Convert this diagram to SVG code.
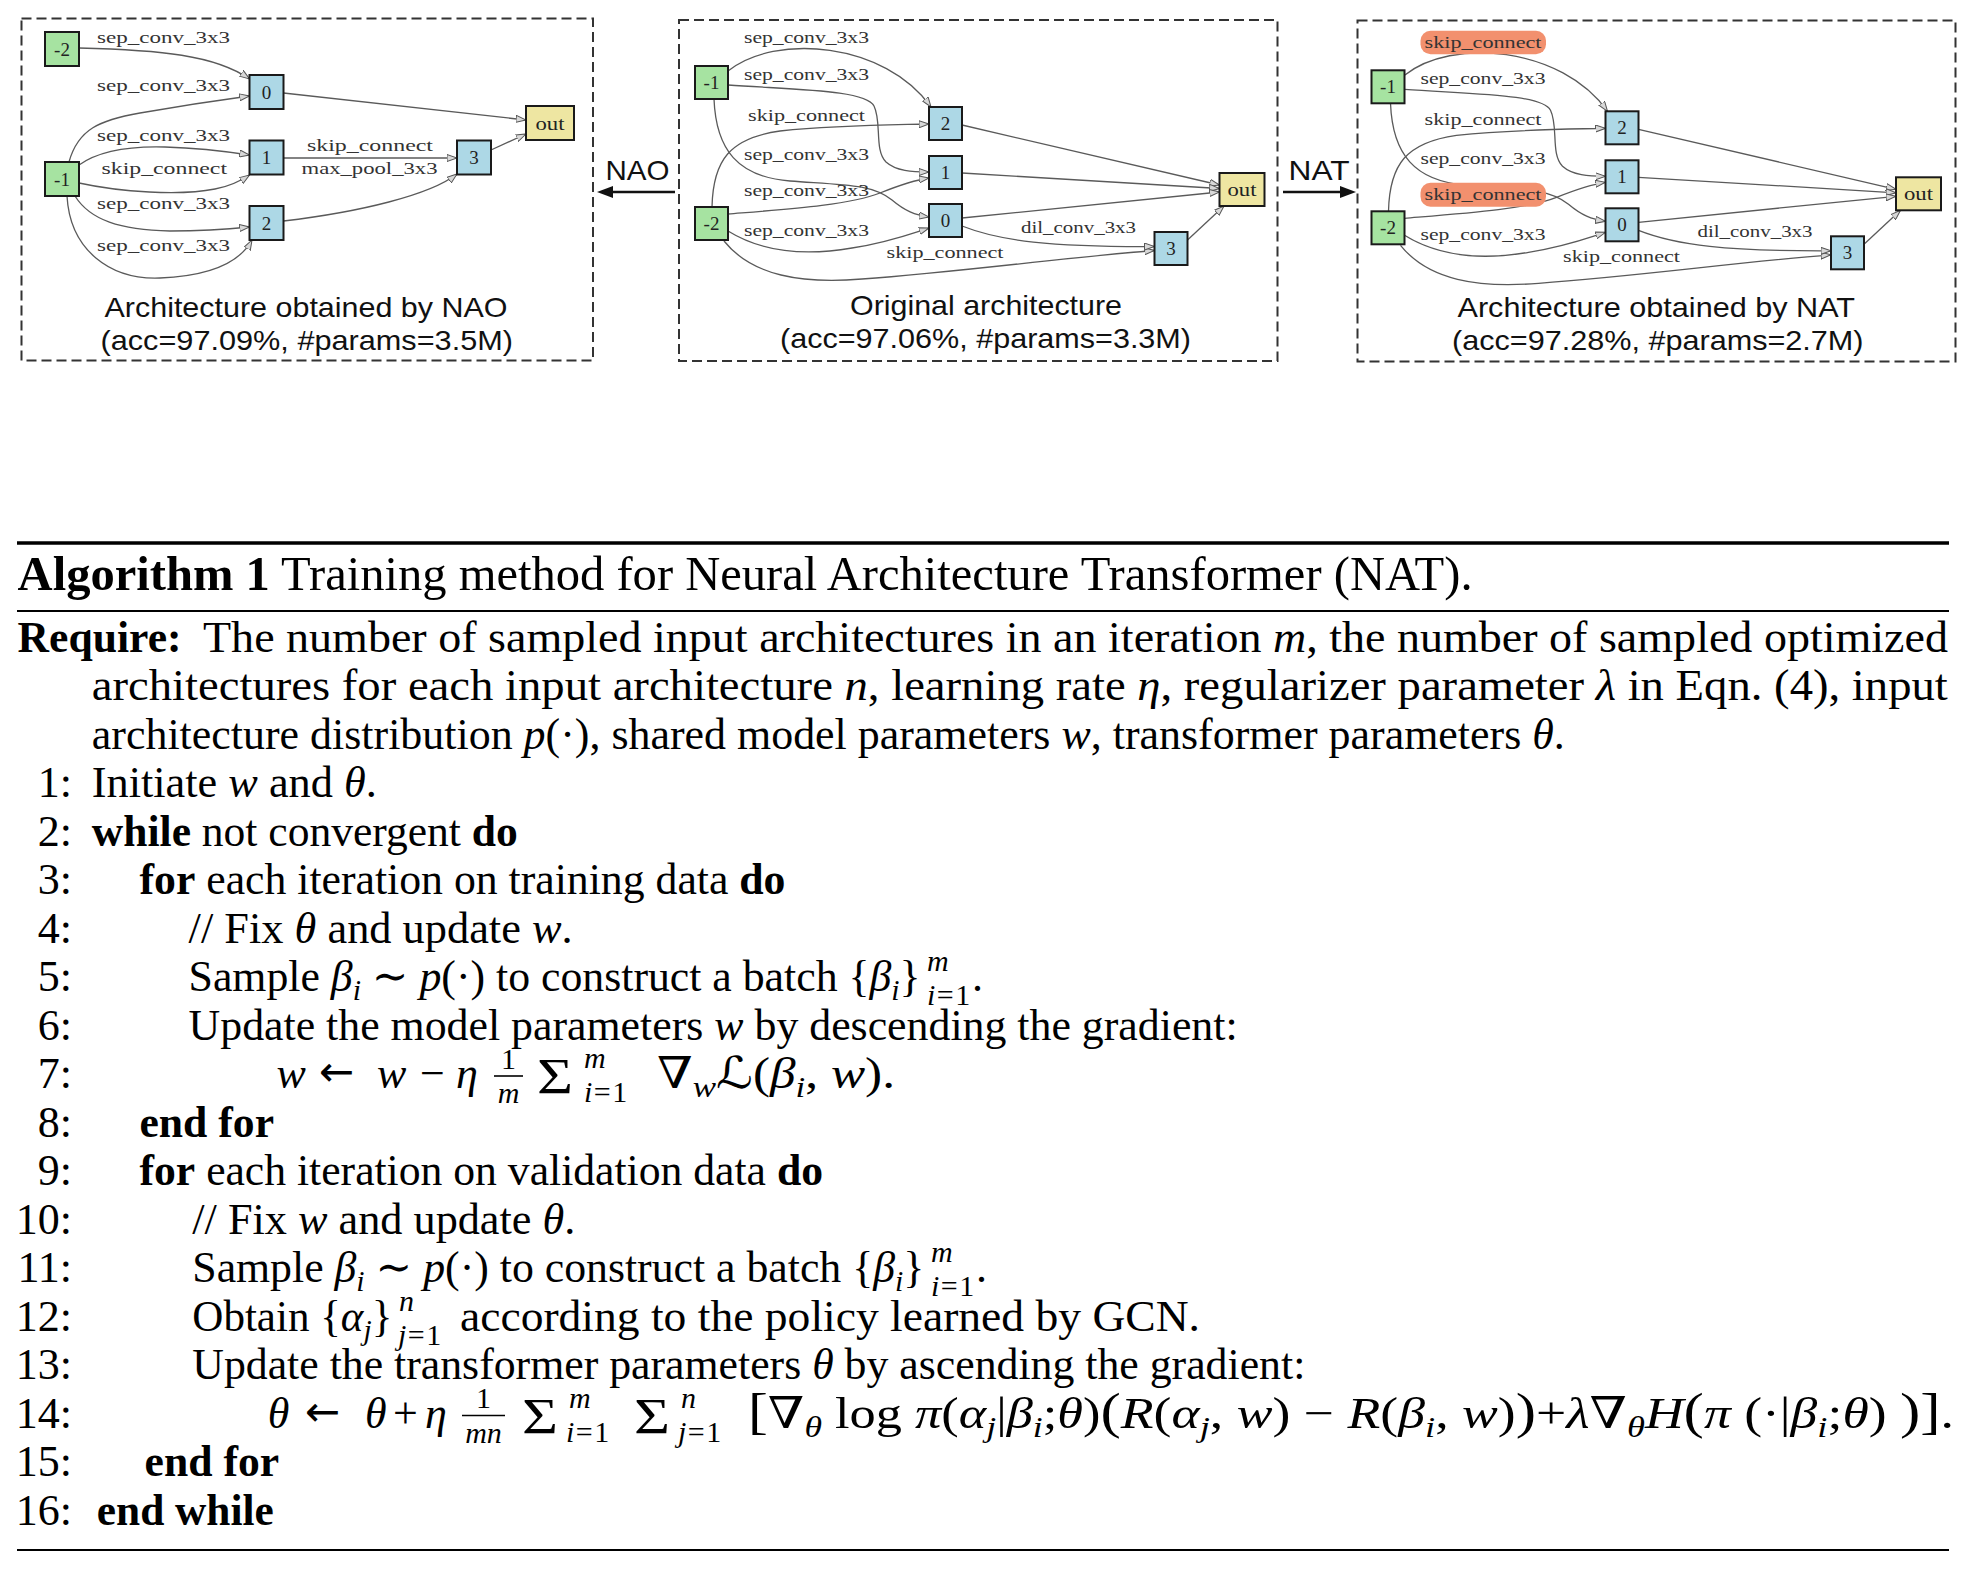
<svg xmlns="http://www.w3.org/2000/svg" width="1971" height="1569" viewBox="0 0 1971 1569">
<style>
.edge{fill:none;stroke:#5a5a5a;stroke-width:1.3;marker-end:url(#ah)}
.nb{stroke:#1a1a1a;stroke-width:2}
.g{fill:#a6e3a1}.bl{fill:#add8e6}.y{fill:#eee6a2}
.nl{font-family:"Liberation Serif","DejaVu Serif",serif;font-size:19px;fill:#222;text-anchor:middle}
.el{font-family:"Liberation Serif","DejaVu Serif",serif;font-size:16px;fill:#333}
.cap{font-family:"Liberation Sans",Arial,sans-serif;font-size:28px;fill:#111}
.frame{fill:none;stroke:#333;stroke-width:2;stroke-dasharray:10 5}
.hl{fill:#f2906e}
.a{font-family:"Liberation Serif","DejaVu Serif","DejaVu Sans",serif;font-size:44px;fill:#000}
.b{font-weight:bold}.i{font-style:italic}.s{font-size:30px}.bg{font-size:50px}.sum{font-size:50px}
.arr{font-family:"DejaVu Sans",sans-serif;font-size:42px;fill:#000}
.rule{stroke:#000}
</style>
<defs>
<marker id="ah" viewBox="0 0 10 8" refX="10" refY="4" markerWidth="10" markerHeight="8" markerUnits="userSpaceOnUse" orient="auto"><path d="M0,0.5 L10,4 L0,7.5 Z" fill="#d8d8d8" stroke="#555" stroke-width="1"/></marker>
</defs>
<rect width="1971" height="1569" fill="#fff"/>

<!-- Panel 1 -->
<g id="panel-nao">
<rect class="frame" x="21.5" y="18.5" width="571.5" height="342"/>
<g id="p1-connectors">
<path class="edge" d="M79,48 C160,50 215,55 249.5,79"/>
<path class="edge" d="M69,162 C78,129 100,120 140,113 C180,106 220,100 249.5,96"/>
<path class="edge" d="M79,165 C100,150 130,146 165,147 C200,148 230,152 249.5,155"/>
<path class="edge" d="M79,183 C120,192 180,196 215,189 C232,186 242,180 249.5,175"/>
<path class="edge" d="M75,196 C90,220 120,230 170,231 C200,231 230,229 249.5,227"/>
<path class="edge" d="M67,196 C70,250 110,280 160,278 C210,276 240,262 252,240"/>
<path class="edge" d="M283.5,93 L526,120"/>
<path class="edge" d="M283.5,158 L457,158"/>
<path class="edge" d="M283.5,221 C360,212 430,195 457,174"/>
<path class="edge" d="M491,150 L526,134"/>
</g>
<g id="p1-labels">
<text class="el" x="97" y="42.5" textLength="133" lengthAdjust="spacingAndGlyphs">sep_conv_3x3</text>
<text class="el" x="97" y="90.5" textLength="133" lengthAdjust="spacingAndGlyphs">sep_conv_3x3</text>
<text class="el" x="97" y="140.5" textLength="133" lengthAdjust="spacingAndGlyphs">sep_conv_3x3</text>
<text class="el" x="101.5" y="174" textLength="125.5" lengthAdjust="spacingAndGlyphs">skip_connect</text>
<text class="el" x="97" y="209" textLength="133" lengthAdjust="spacingAndGlyphs">sep_conv_3x3</text>
<text class="el" x="97" y="250.5" textLength="133" lengthAdjust="spacingAndGlyphs">sep_conv_3x3</text>
<text class="el" x="307" y="150.5" textLength="126" lengthAdjust="spacingAndGlyphs">skip_connect</text>
<text class="el" x="301.5" y="174" textLength="136" lengthAdjust="spacingAndGlyphs">max_pool_3x3</text>
</g>
<g id="p1-node-m2"><rect class="g nb" x="45" y="32" width="34" height="34"/><text class="nl" x="62" y="55.5">-2</text></g>
<g id="p1-node-0"><rect class="bl nb" x="249.5" y="75" width="34" height="34"/><text class="nl" x="266.5" y="98.5">0</text></g>
<g id="p1-node-m1"><rect class="g nb" x="45" y="162" width="34" height="34"/><text class="nl" x="62" y="185.5">-1</text></g>
<g id="p1-node-1"><rect class="bl nb" x="249.5" y="140.5" width="34" height="34"/><text class="nl" x="266.5" y="164">1</text></g>
<g id="p1-node-2"><rect class="bl nb" x="249.5" y="206" width="34" height="34"/><text class="nl" x="266.5" y="229.5">2</text></g>
<g id="p1-node-3"><rect class="bl nb" x="457" y="140.5" width="34" height="34"/><text class="nl" x="474" y="164">3</text></g>
<g id="p1-node-out"><rect class="y nb" x="526" y="106" width="48" height="34"/><text class="nl" x="550" y="129.5" textLength="29" lengthAdjust="spacingAndGlyphs">out</text></g>
<text class="cap" x="104.5" y="317" textLength="403" lengthAdjust="spacingAndGlyphs">Architecture obtained by NAO</text>
<text class="cap" x="100.5" y="350" textLength="412.5" lengthAdjust="spacingAndGlyphs">(acc=97.09%, #params=3.5M)</text>
</g>

<!-- arrows between panels -->
<g id="inter-arrows">
<line x1="675" y1="192" x2="610" y2="192" stroke="#111" stroke-width="2.5"/>
<polygon points="597,192 613,186 613,198" fill="#111"/>
<text class="cap" x="605.5" y="180" textLength="64" lengthAdjust="spacingAndGlyphs">NAO</text>
<line x1="1283" y1="192" x2="1343" y2="192" stroke="#111" stroke-width="2.5"/>
<polygon points="1356,192 1340,186 1340,198" fill="#111"/>
<text class="cap" x="1288.5" y="180" textLength="61" lengthAdjust="spacingAndGlyphs">NAT</text>
</g>

<!-- Panel 2 -->
<g id="panel-original">
<rect class="frame" x="679" y="20" width="598.5" height="341"/>
<g id="p2-connectors">
<path class="edge" d="M728,71 C775,33 885,42 931,107"/>
<path class="edge" d="M728,85 C800,90 866,90 874,106 C882,122 874,150 886,162 C896,171 912,172 929,172"/>
<path class="edge" d="M712,207 C713,160 730,138 780,131 C840,125 890,125 929,124"/>
<path class="edge" d="M714,99 C716,150 738,177 790,181 C845,185 872,184 892,200 C905,211 915,215 929,217"/>
<path class="edge" d="M728,214 C790,209 850,205 880,193 C900,185 915,180 929,178"/>
<path class="edge" d="M728,231 C762,252 806,256 852,248 C890,242 910,234 929,228"/>
<path class="edge" d="M724,241 C752,276 802,284 862,279 C960,272 1060,258 1154.5,250.5"/>
<path class="edge" d="M962,226 C1000,241 1050,247 1154.5,246.5"/>
<path class="edge" d="M962,125 L1219.5,185"/>
<path class="edge" d="M962,173 L1219.5,188.5"/>
<path class="edge" d="M962,218 L1219.5,192"/>
<path class="edge" d="M1187.5,240 L1224,206"/>
</g>
<g id="p2-labels">
<text class="el" x="744" y="43" textLength="125" lengthAdjust="spacingAndGlyphs">sep_conv_3x3</text>
<text class="el" x="744" y="80" textLength="125" lengthAdjust="spacingAndGlyphs">sep_conv_3x3</text>
<text class="el" x="748" y="121" textLength="117" lengthAdjust="spacingAndGlyphs">skip_connect</text>
<text class="el" x="744" y="159.5" textLength="125" lengthAdjust="spacingAndGlyphs">sep_conv_3x3</text>
<text class="el" x="744" y="196" textLength="125" lengthAdjust="spacingAndGlyphs">sep_conv_3x3</text>
<text class="el" x="744" y="236" textLength="125" lengthAdjust="spacingAndGlyphs">sep_conv_3x3</text>
<text class="el" x="1021" y="232.5" textLength="115" lengthAdjust="spacingAndGlyphs">dil_conv_3x3</text>
<text class="el" x="886.5" y="258" textLength="117" lengthAdjust="spacingAndGlyphs">skip_connect</text>
</g>
<g id="p2-node-m1"><rect class="g nb" x="695" y="66" width="33" height="33"/><text class="nl" x="711.5" y="89">-1</text></g>
<g id="p2-node-2"><rect class="bl nb" x="929" y="107" width="33" height="33"/><text class="nl" x="945.5" y="130">2</text></g>
<g id="p2-node-1"><rect class="bl nb" x="929" y="156" width="33" height="33"/><text class="nl" x="945.5" y="179">1</text></g>
<g id="p2-node-0"><rect class="bl nb" x="929" y="204" width="33" height="33"/><text class="nl" x="945.5" y="227">0</text></g>
<g id="p2-node-m2"><rect class="g nb" x="695" y="207" width="33" height="33"/><text class="nl" x="711.5" y="230">-2</text></g>
<g id="p2-node-3"><rect class="bl nb" x="1154.5" y="232" width="33" height="33"/><text class="nl" x="1171" y="255">3</text></g>
<g id="p2-node-out"><rect class="y nb" x="1219.5" y="173" width="45" height="33"/><text class="nl" x="1242" y="196" textLength="29" lengthAdjust="spacingAndGlyphs">out</text></g>
<text class="cap" x="850" y="315" textLength="272" lengthAdjust="spacingAndGlyphs">Original architecture</text>
<text class="cap" x="780" y="347.5" textLength="411" lengthAdjust="spacingAndGlyphs">(acc=97.06%, #params=3.3M)</text>
</g>

<!-- Panel 3 -->
<g id="panel-nat">
<rect class="frame" x="1357.5" y="20.5" width="598" height="341"/>
<g transform="translate(676.5,4.3)">
<g id="p3-connectors">
<path class="edge" d="M728,71 C775,33 885,42 931,107"/>
<path class="edge" d="M728,85 C800,90 866,90 874,106 C882,122 874,150 886,162 C896,171 912,172 929,172"/>
<path class="edge" d="M712,207 C713,160 730,138 780,131 C840,125 890,125 929,124"/>
<path class="edge" d="M714,99 C716,150 738,177 790,181 C845,185 872,184 892,200 C905,211 915,215 929,217"/>
<path class="edge" d="M728,214 C790,209 850,205 880,193 C900,185 915,180 929,178"/>
<path class="edge" d="M728,231 C762,252 806,256 852,248 C890,242 910,234 929,228"/>
<path class="edge" d="M724,241 C752,276 802,284 862,279 C960,272 1060,258 1154.5,250.5"/>
<path class="edge" d="M962,226 C1000,241 1050,247 1154.5,246.5"/>
<path class="edge" d="M962,125 L1219.5,185"/>
<path class="edge" d="M962,173 L1219.5,188.5"/>
<path class="edge" d="M962,218 L1219.5,192"/>
<path class="edge" d="M1187.5,240 L1224,206"/>
</g>
<g id="p3-labels">
<rect class="hl" x="744" y="26.5" width="125.5" height="23.5" rx="10"/>
<text class="el" x="748" y="43.5" textLength="117" lengthAdjust="spacingAndGlyphs">skip_connect</text>
<text class="el" x="744" y="80" textLength="125" lengthAdjust="spacingAndGlyphs">sep_conv_3x3</text>
<text class="el" x="748" y="121" textLength="117" lengthAdjust="spacingAndGlyphs">skip_connect</text>
<text class="el" x="744" y="159.5" textLength="125" lengthAdjust="spacingAndGlyphs">sep_conv_3x3</text>
<rect class="hl" x="744" y="178.5" width="125.5" height="24" rx="10"/>
<text class="el" x="748" y="196" textLength="117" lengthAdjust="spacingAndGlyphs">skip_connect</text>
<text class="el" x="744" y="236" textLength="125" lengthAdjust="spacingAndGlyphs">sep_conv_3x3</text>
<text class="el" x="1021" y="232.5" textLength="115" lengthAdjust="spacingAndGlyphs">dil_conv_3x3</text>
<text class="el" x="886.5" y="258" textLength="117" lengthAdjust="spacingAndGlyphs">skip_connect</text>
</g>
<g id="p3-node-m1"><rect class="g nb" x="695" y="66" width="33" height="33"/><text class="nl" x="711.5" y="89">-1</text></g>
<g id="p3-node-2"><rect class="bl nb" x="929" y="107" width="33" height="33"/><text class="nl" x="945.5" y="130">2</text></g>
<g id="p3-node-1"><rect class="bl nb" x="929" y="156" width="33" height="33"/><text class="nl" x="945.5" y="179">1</text></g>
<g id="p3-node-0"><rect class="bl nb" x="929" y="204" width="33" height="33"/><text class="nl" x="945.5" y="227">0</text></g>
<g id="p3-node-m2"><rect class="g nb" x="695" y="207" width="33" height="33"/><text class="nl" x="711.5" y="230">-2</text></g>
<g id="p3-node-3"><rect class="bl nb" x="1154.5" y="232" width="33" height="33"/><text class="nl" x="1171" y="255">3</text></g>
<g id="p3-node-out"><rect class="y nb" x="1219.5" y="173" width="45" height="33"/><text class="nl" x="1242" y="196" textLength="29" lengthAdjust="spacingAndGlyphs">out</text></g>
</g>
<text class="cap" x="1457.5" y="317" textLength="397.5" lengthAdjust="spacingAndGlyphs">Architecture obtained by NAT</text>
<text class="cap" x="1452" y="350" textLength="411.5" lengthAdjust="spacingAndGlyphs">(acc=97.28%, #params=2.7M)</text>
</g>

<!-- Algorithm -->
<g id="algorithm">
<line class="rule" x1="17" y1="543" x2="1949" y2="543" stroke-width="3.5"/>
<text class="a" x="17.6" y="590" style="font-size:48px" textLength="1455" lengthAdjust="spacingAndGlyphs"><tspan class="b">Algorithm 1</tspan> Training method for Neural Architecture Transformer (NAT).</text>
<line class="rule" x1="17" y1="611" x2="1949" y2="611" stroke-width="2"/>
<text class="a b" x="17.6" y="651.5" textLength="164" lengthAdjust="spacingAndGlyphs">Require:</text>
<text class="a" x="203" y="651.5" textLength="1745" lengthAdjust="spacingAndGlyphs">The number of sampled input architectures in an iteration <tspan class="i">m</tspan>, the number of sampled optimized</text>
<text class="a" x="91.8" y="700" textLength="1856" lengthAdjust="spacingAndGlyphs">architectures for each input architecture <tspan class="i">n</tspan>, learning rate <tspan class="i">η</tspan>, regularizer parameter <tspan class="i">λ</tspan> in Eqn. (4), input</text>
<text class="a" x="91.8" y="748.5" textLength="1473" lengthAdjust="spacingAndGlyphs">architecture distribution <tspan class="i">p</tspan>(·), shared model parameters <tspan class="i">w</tspan>, transformer parameters <tspan class="i">θ</tspan>.</text>

<g text-anchor="end">
<text class="a" x="72" y="797">1:</text>
<text class="a" x="72" y="845.5">2:</text>
<text class="a" x="72" y="894">3:</text>
<text class="a" x="72" y="942.5">4:</text>
<text class="a" x="72" y="991">5:</text>
<text class="a" x="72" y="1039.5">6:</text>
<text class="a" x="72" y="1088">7:</text>
<text class="a" x="72" y="1136.5">8:</text>
<text class="a" x="72" y="1185">9:</text>
<text class="a" x="72" y="1233.5">10:</text>
<text class="a" x="72" y="1282">11:</text>
<text class="a" x="72" y="1330.5">12:</text>
<text class="a" x="72" y="1379">13:</text>
<text class="a" x="72" y="1427.5">14:</text>
<text class="a" x="72" y="1476">15:</text>
<text class="a" x="72" y="1524.5">16:</text>
</g>

<text class="a" x="91.8" y="797" textLength="285" lengthAdjust="spacingAndGlyphs">Initiate <tspan class="i">w</tspan> and <tspan class="i">θ</tspan>.</text>
<text class="a" x="91.8" y="845.5" textLength="426" lengthAdjust="spacingAndGlyphs"><tspan class="b">while</tspan> not convergent <tspan class="b">do</tspan></text>
<text class="a" x="139.5" y="894" textLength="646" lengthAdjust="spacingAndGlyphs"><tspan class="b">for</tspan> each iteration on training data <tspan class="b">do</tspan></text>
<text class="a" x="188.6" y="942.5" textLength="384" lengthAdjust="spacingAndGlyphs">// Fix <tspan class="i">θ</tspan> and update <tspan class="i">w</tspan>.</text>

<text class="a" x="188.6" y="991" textLength="732" lengthAdjust="spacingAndGlyphs">Sample <tspan class="i">β</tspan><tspan class="s i" dy="9">i</tspan><tspan dy="-9"> ∼ </tspan><tspan class="i">p</tspan>(·) to construct a batch {<tspan class="i">β</tspan><tspan class="s i" dy="9">i</tspan><tspan dy="-9">}</tspan></text>
<text class="a s i" x="927" y="971">m</text>
<text class="a s" x="927" y="1005"><tspan class="i">i</tspan><tspan dx="1.5">=</tspan><tspan dx="1.5">1</tspan></text>
<text class="a" x="972" y="991">.</text>

<text class="a" x="188.6" y="1039.5" textLength="1049" lengthAdjust="spacingAndGlyphs">Update the model parameters <tspan class="i">w</tspan> by descending the gradient:</text>

<text class="a i" x="276.5" y="1088">w</text>
<text class="arr" x="319" y="1086">←</text>
<text class="a i" x="377" y="1088">w</text>
<text class="a" x="420" y="1088">−</text>
<text class="a i" x="456" y="1088">η</text>
<text class="a s" x="508.5" y="1069" text-anchor="middle">1</text>
<line class="rule" x1="494" y1="1076" x2="523" y2="1076" stroke-width="1.6"/>
<text class="a s i" x="508.5" y="1103" text-anchor="middle">m</text>
<text class="a sum" x="537" y="1093" textLength="36" lengthAdjust="spacingAndGlyphs">Σ</text>
<text class="a s i" x="584" y="1068">m</text>
<text class="a s" x="584" y="1102"><tspan class="i">i</tspan><tspan dx="1.5">=</tspan><tspan dx="1.5">1</tspan></text>
<text class="a" x="657" y="1088" textLength="238" lengthAdjust="spacingAndGlyphs">∇<tspan class="s i" dy="9">w</tspan><tspan dy="-9">ℒ(</tspan><tspan class="i">β</tspan><tspan class="s i" dy="9">i</tspan><tspan dy="-9">, </tspan><tspan class="i">w</tspan>).</text>

<text class="a b" x="139.5" y="1136.5" textLength="134.5" lengthAdjust="spacingAndGlyphs">end for</text>
<text class="a" x="139.5" y="1185" textLength="683.5" lengthAdjust="spacingAndGlyphs"><tspan class="b">for</tspan> each iteration on validation data <tspan class="b">do</tspan></text>
<text class="a" x="192.3" y="1233.5" textLength="383" lengthAdjust="spacingAndGlyphs">// Fix <tspan class="i">w</tspan> and update <tspan class="i">θ</tspan>.</text>

<text class="a" x="192.3" y="1282" textLength="732" lengthAdjust="spacingAndGlyphs">Sample <tspan class="i">β</tspan><tspan class="s i" dy="9">i</tspan><tspan dy="-9"> ∼ </tspan><tspan class="i">p</tspan>(·) to construct a batch {<tspan class="i">β</tspan><tspan class="s i" dy="9">i</tspan><tspan dy="-9">}</tspan></text>
<text class="a s i" x="931" y="1262">m</text>
<text class="a s" x="931" y="1296"><tspan class="i">i</tspan><tspan dx="1.5">=</tspan><tspan dx="1.5">1</tspan></text>
<text class="a" x="976" y="1282">.</text>

<text class="a" x="192.3" y="1330.5" textLength="200" lengthAdjust="spacingAndGlyphs">Obtain {<tspan class="i">α</tspan><tspan class="s i" dy="9">j</tspan><tspan dy="-9">}</tspan></text>
<text class="a s i" x="399" y="1310.5">n</text>
<text class="a s" x="398" y="1344.5"><tspan class="i">j</tspan><tspan dx="1.5">=</tspan><tspan dx="1.5">1</tspan></text>
<text class="a" x="460" y="1330.5" textLength="740" lengthAdjust="spacingAndGlyphs">according to the policy learned by GCN.</text>

<text class="a" x="192.3" y="1379" textLength="1113" lengthAdjust="spacingAndGlyphs">Update the transformer parameters <tspan class="i">θ</tspan> by ascending the gradient:</text>

<text class="a i" x="267.7" y="1427.5">θ</text>
<text class="arr" x="305" y="1425.5">←</text>
<text class="a i" x="365" y="1427.5">θ</text>
<text class="a" x="393" y="1427.5">+</text>
<text class="a i" x="425" y="1427.5">η</text>
<text class="a s" x="483.5" y="1408" text-anchor="middle">1</text>
<line class="rule" x1="462" y1="1415.5" x2="505" y2="1415.5" stroke-width="1.6"/>
<text class="a s i" x="483.5" y="1443" text-anchor="middle">mn</text>
<text class="a sum" x="522" y="1433" textLength="36" lengthAdjust="spacingAndGlyphs">Σ</text>
<text class="a s i" x="569" y="1407.5">m</text>
<text class="a s" x="566" y="1441.5"><tspan class="i">i</tspan><tspan dx="1.5">=</tspan><tspan dx="1.5">1</tspan></text>
<text class="a sum" x="634" y="1433" textLength="36" lengthAdjust="spacingAndGlyphs">Σ</text>
<text class="a s i" x="681" y="1407.5">n</text>
<text class="a s" x="678" y="1441.5"><tspan class="i">j</tspan><tspan dx="1.5">=</tspan><tspan dx="1.5">1</tspan></text>
<text class="a" x="748" y="1427.5" textLength="352.5" lengthAdjust="spacingAndGlyphs"><tspan class="bg">[</tspan>∇<tspan class="s i" dy="9">θ</tspan><tspan dy="-9"> log </tspan><tspan class="i">π</tspan>(<tspan class="i">α</tspan><tspan class="s i" dy="9">j</tspan><tspan dy="-9">|</tspan><tspan class="i">β</tspan><tspan class="s i" dy="9">i</tspan><tspan dy="-9">;</tspan><tspan class="i">θ</tspan>)</text>
<text class="a" x="1100.5" y="1427.5" textLength="435.5" lengthAdjust="spacingAndGlyphs"><tspan class="bg">(</tspan><tspan class="i">R</tspan>(<tspan class="i">α</tspan><tspan class="s i" dy="9">j</tspan><tspan dy="-9">, </tspan><tspan class="i">w</tspan>) − <tspan class="i">R</tspan>(<tspan class="i">β</tspan><tspan class="s i" dy="9">i</tspan><tspan dy="-9">, </tspan><tspan class="i">w</tspan>)<tspan class="bg">)</tspan></text>
<text class="a" x="1536" y="1427.5" textLength="418" lengthAdjust="spacingAndGlyphs">+<tspan class="i">λ</tspan>∇<tspan class="s i" dy="9">θ</tspan><tspan class="i" dy="-9">H</tspan><tspan class="bg">(</tspan><tspan class="i">π</tspan> (·|<tspan class="i">β</tspan><tspan class="s i" dy="9">i</tspan><tspan dy="-9">;</tspan><tspan class="i">θ</tspan>) <tspan class="bg">)]</tspan>.</text>

<text class="a b" x="144.6" y="1476" textLength="134.5" lengthAdjust="spacingAndGlyphs">end for</text>
<text class="a b" x="96.8" y="1524.5" textLength="177" lengthAdjust="spacingAndGlyphs">end while</text>
<line class="rule" x1="17" y1="1550" x2="1949" y2="1550" stroke-width="2"/>
</g>
</svg>
